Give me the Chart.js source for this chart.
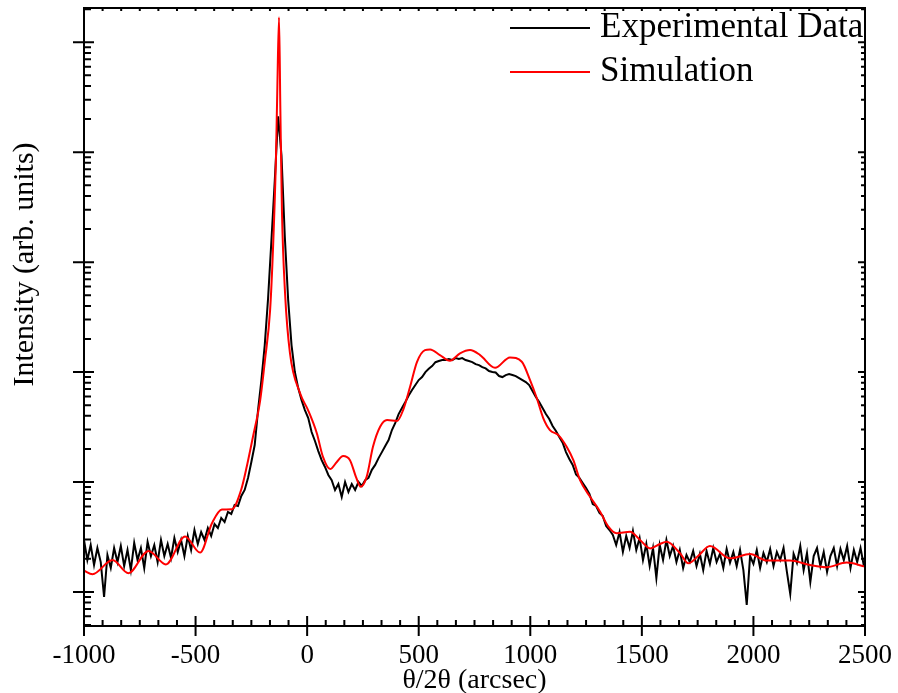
<!DOCTYPE html>
<html>
<head>
<meta charset="utf-8">
<script src="https://cdn.jsdelivr.net/npm/chart.js@4.4.0/dist/chart.umd.min.js"></script>
<style>
  html, body { margin: 0; padding: 0; background: #fff; }
  #wrap { width: 898px; height: 693px; }
</style>
</head>
<body>
<div id="wrap"><canvas id="xrd" width="898" height="693"></canvas></div>
<script>
// measured rocking curve (theta/2theta scan), arcsec vs counts
const expTheta = [
  -1000,-985,-970,-955,-940,-925,-910,-895,-880,-865,
  -850,-835,-820,-805,-790,-775,-760,-745,-730,-715,
  -700,-685,-670,-655,-640,-625,-610,-595,-580,-565,
  -550,-535,-520,-505,-490,-475,-460,-445,-430,-415,
  -400,-385,-370,-355,-340,-325,-310,-295,-280,-265,
  -250,-235,-220,-205,-190,-175,-160,-145,-130,-115,
  -100,-85,-70,-55,-40,-25,-10,5,20,35,
  50,65,80,95,110,125,140,155,170,185,
  200,215,230,245,260,275,290,305,320,335,
  350,365,380,395,410,425,440,455,470,485,
  500,515,530,545,560,575,590,605,620,635,
  650,665,680,695,710,725,740,755,770,785,
  800,815,830,845,860,875,890,905,920,935,
  950,965,980,995,1010,1025,1040,1055,1070,1085,
  1100,1115,1130,1145,1160,1175,1190,1205,1220,1235,
  1250,1265,1280,1295,1310,1325,1340,1355,1370,1385,
  1400,1415,1430,1445,1460,1475,1490,1505,1520,1535,
  1550,1565,1580,1595,1610,1625,1640,1655,1670,1685,
  1700,1715,1730,1745,1760,1775,1790,1805,1820,1835,
  1850,1865,1880,1895,1910,1925,1940,1955,1970,1985,
  2000,2015,2030,2045,2060,2075,2090,2105,2120,2135,
  2150,2165,2180,2195,2210,2225,2240,2255,2270,2285,
  2300,2315,2330,2345,2360,2375,2390,2405,2420,2435,
  2450,2465,2480,2495
];
const expCounts = [
  29.7,19.5,26.7,17.6,25.1,18.7,9.0,21.7,16.5,25.1,
  18.7,26.2,17.2,24.1,15.8,27.9,19.5,25.1,16.5,28.5,
  21.2,26.7,18.7,29.7,21.2,27.3,20.4,31.0,23.1,29.7,
  21.2,32.3,24.1,36.6,27.3,35.1,29.7,38.2,32.3,41.5,
  38.2,47.1,43.3,53.4,51.2,61.8,60.5,74.6,84.6,109,
  152,217,451,846,1760,4710,15850,55650,212500,93900,
  16880,4510,1760,1000,715,556,451,382,285,236,
  191,158,137,116,104,84.6,95.9,73.1,100,81.1,
  95.9,84.6,100,92.0,104,109,129,143,165,187,
  213,241,297,345,415,471,534,612,686,762,
  846,901,1000,1070,1134,1230,1259,1286,1286,1313,
  1286,1340,1313,1340,1286,1259,1233,1182,1158,1110,
  1080,1021,1000,990,920,901,939,959,939,920,
  882,846,811,762,672,593,534,471,415,374,
  323,291,257,228,187,162,143,117,109,97.9,
  88.0,77.8,63.0,60.5,52.3,49.0,39.8,36.6,33.0,26.7,
  35.1,23.1,32.3,25.1,35.9,24.1,31.0,19.5,27.3,17.2,
  25.1,13.4,26.7,19.5,29.7,21.2,26.2,18.7,24.1,16.5,
  21.7,18.7,23.6,17.2,22.2,15.8,23.6,18.0,25.1,18.7,
  22.2,16.5,24.6,18.4,23.1,17.2,24.1,15.8,7.62,21.2,
  18.0,24.1,16.5,22.6,18.7,24.6,17.2,23.1,19.5,25.1,
  15.2,9.59,22.2,18.4,26.2,15.8,22.6,12.3,21.2,25.1,
  17.2,23.1,15.2,21.2,25.1,17.2,24.6,19.5,26.2,16.5,
  24.1,18.7,25.1,17.2
];

// simulated curve
const simTheta = [
  -1000,-962,-872,-801,-711,-633,-547,-480,-426,-382,
  -337,-296,-270,-243,-211,-189,-166,-152,-140,-134,
  -126,-120,-113,-99,-77,-32,4,43,71,103,
  133,161,192,219,240,267,295,327,358,403,
  430,461,492,528,551,595,640,685,730,775,
  842,909,962,999,1029,1058,1088,1126,1163,1193,
  1223,1268,1313,1350,1387,1447,1492,1537,1581,1611,
  1671,1708,1752,1805,1895,1985,2060,2164,2253,2328,
  2418,2500
];
const simCounts = [
  15.6,14.5,19.5,14.8,23.6,17.8,32.0,22.8,42.4,56.2,
  56.5,84.6,140,257,545,1285,3660,14890,84600,343700,
  1687000,241000,29700,5230,1489,644,451,279,169,131,
  152,172,158,111,90.6,112,209,318,366,359,
  451,731,1233,1585,1607,1428,1268,1479,1585,1428,
  1094,1360,1241,845,581,382,297,267,209,158,
  104,73.4,53.7,39.3,34.2,35.3,29.7,24.9,27.3,28.6,
  22.5,18.2,21.2,26.2,20.2,22.1,19.3,19.3,17.6,16.8,
  18.5,17.0
];

const xTicks = [-1000, -500, 0, 500, 1000, 1500, 2000, 2500];
const seriesNames = ['Experimental Data', 'Simulation'];
const seriesColors = ['#000000', '#ff0000'];

const SERIF = "'Liberation Serif', 'Times New Roman', serif";

// frame, inward/outward tick marks, y title and legend (origin-style)
const framePlugin = {
  id: 'frame',
  afterDraw(chart) {
    const { ctx, chartArea: a, scales: { x, y } } = chart;
    ctx.save();
    ctx.strokeStyle = '#000';
    ctx.lineWidth = 2;
    ctx.strokeRect(a.left, a.top, a.right - a.left, a.bottom - a.top);

    // x ticks: majors every 500, six sub-divisions
    ctx.beginPath();
    for (let i = 0; i <= 42; i++) {
      const px = x.getPixelForValue(x.min + i * (x.max - x.min) / 42);
      if (i % 6 === 0) {
        ctx.moveTo(px, a.bottom + 10); ctx.lineTo(px, a.bottom - 10);
      } else {
        ctx.moveTo(px, a.bottom); ctx.lineTo(px, a.bottom - 6);
      }
      ctx.moveTo(px, a.top); ctx.lineTo(px, a.top + 3);
    }
    // log ticks on left and right
    for (let dec = 1; dec <= 1e6; dec *= 10) {
      for (let m = 1; m <= 9; m++) {
        const v = dec * m;
        if (v < y.min || v > y.max) continue;
        const py = y.getPixelForValue(v);
        if (m === 1) {
          ctx.moveTo(a.left - 11, py); ctx.lineTo(a.left + 10, py);
          ctx.moveTo(a.right, py); ctx.lineTo(a.right - 7, py);
        } else {
          ctx.moveTo(a.left, py); ctx.lineTo(a.left + 7, py);
          ctx.moveTo(a.right, py); ctx.lineTo(a.right - 4, py);
        }
      }
    }
    ctx.stroke();

    // y title
    ctx.fillStyle = '#000';
    ctx.font = '30px ' + SERIF;
    ctx.textAlign = 'center';
    ctx.textBaseline = 'middle';
    ctx.translate(25, 264.5);
    ctx.rotate(-Math.PI / 2);
    ctx.fillText('Intensity (arb. units)', 0, 0);
    ctx.restore();

    // legend, top right inside the frame
    ctx.save();
    ctx.font = '35px ' + SERIF;
    ctx.textAlign = 'left';
    ctx.textBaseline = 'middle';
    chart.data.datasets.slice().sort((p, q) => p.legendRank - q.legendRank).forEach((ds, i) => {
      const ly = 28 + i * 44;
      ctx.strokeStyle = ds.borderColor;
      ctx.lineWidth = 2;
      ctx.beginPath();
      ctx.moveTo(510, ly); ctx.lineTo(590, ly);
      ctx.stroke();
      ctx.fillStyle = '#000';
      ctx.fillText(ds.label, 600, ly);
    });
    ctx.restore();
  }
};

new Chart(document.getElementById('xrd'), {
  type: 'line',
  data: {
    datasets: [
      {
        label: seriesNames[0],
        legendRank: 0,
        data: expTheta.map((t, i) => ({ x: t, y: expCounts[i] })),
        borderColor: seriesColors[0],
        borderWidth: 2,
        pointRadius: 0,
        tension: 0,
        order: 1
      },
      {
        label: seriesNames[1],
        legendRank: 1,
        data: simTheta.map((t, i) => ({ x: t, y: simCounts[i] })),
        borderColor: seriesColors[1],
        borderWidth: 2,
        pointRadius: 0,
        cubicInterpolationMode: 'monotone',
        order: 0
      }
    ]
  },
  options: {
    responsive: false,
    animation: false,
    devicePixelRatio: 1,
    layout: { padding: { top: 8, right: 33, left: 0, bottom: 0 } },
    plugins: { legend: { display: false }, tooltip: { enabled: false } },
    scales: {
      x: {
        type: 'linear',
        min: -1000,
        max: 2500,
        afterBuildTicks: s => { s.ticks = xTicks.map(v => ({ value: v })); },
        afterFit: s => { s.height = 67; s.paddingLeft = 0; s.paddingRight = 0; },
        grid: { display: false, drawTicks: false },
        border: { display: false },
        ticks: {
          color: '#000',
          font: { family: SERIF, size: 27 },
          padding: 14,
          maxRotation: 0,
          autoSkip: false,
          callback: v => String(v)
        },
        title: {
          display: true,
          text: 'θ/2θ (arcsec)',
          color: '#000',
          font: { family: SERIF, size: 28, lineHeight: 0.9 },
          padding: 0
        }
      },
      y: {
        type: 'logarithmic',
        min: 4.9,
        max: 2.05e6,
        afterFit: s => { s.width = 84; },
        grid: { display: false, drawTicks: false },
        border: { display: false },
        ticks: { display: false }
      }
    }
  },
  plugins: [framePlugin]
});
</script>
</body>
</html>
